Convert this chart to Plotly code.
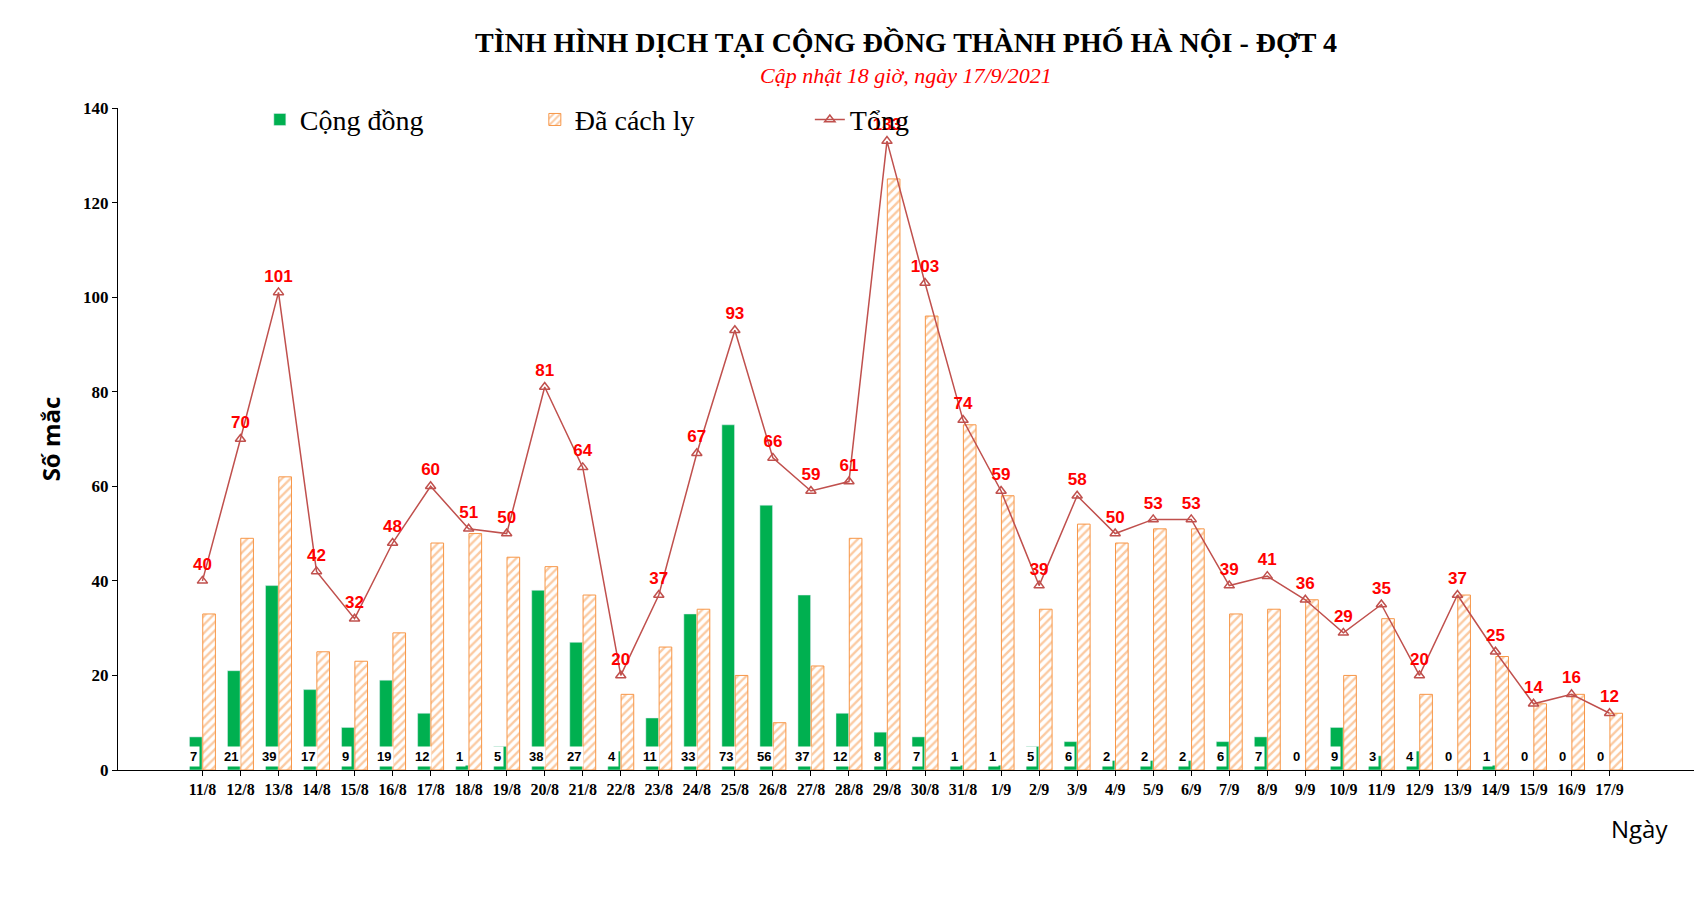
import plotly.graph_objects as go

days = ["11/8", "12/8", "13/8", "14/8", "15/8", "16/8", "17/8", "18/8", "19/8", "20/8",
        "21/8", "22/8", "23/8", "24/8", "25/8", "26/8", "27/8", "28/8", "29/8", "30/8",
        "31/8", "1/9", "2/9", "3/9", "4/9", "5/9", "6/9", "7/9", "8/9", "9/9",
        "10/9", "11/9", "12/9", "13/9", "14/9", "15/9", "16/9", "17/9"]
cong_dong = [7, 21, 39, 17, 9, 19, 12, 1, 5, 38, 27, 4, 11, 33, 73, 56, 37, 12, 8, 7,
             1, 1, 5, 6, 2, 2, 2, 6, 7, 0, 9, 3, 4, 0, 1, 0, 0, 0]
da_cach_ly = [33, 49, 62, 25, 23, 29, 48, 50, 45, 43, 37, 16, 26, 34, 20, 10, 22, 49, 125, 96,
              73, 58, 34, 52, 48, 51, 51, 33, 34, 36, 20, 32, 16, 37, 24, 14, 16, 12]
tong = [40, 70, 101, 42, 32, 48, 60, 51, 50, 81, 64, 20, 37, 67, 93, 66, 59, 61, 133, 103,
        74, 59, 39, 58, 50, 53, 53, 39, 41, 36, 29, 35, 20, 37, 25, 14, 16, 12]

ORANGE = "#F79646"
GREEN = "#00B050"
LINE = "#C0504D"

fig = go.Figure()
fig.add_trace(go.Bar(x=days, y=cong_dong, name="Cộng đồng", marker_color=GREEN))
fig.add_trace(go.Bar(
    x=days, y=da_cach_ly, name="Đã cách ly",
    marker=dict(color="white", line=dict(color=ORANGE, width=1),
                pattern=dict(shape="/", fgcolor=ORANGE, bgcolor="white", size=6, solidity=0.4)),
))
fig.add_trace(go.Scatter(
    x=days, y=tong, name="Tổng", mode="lines+markers+text",
    line=dict(color=LINE, width=1.5),
    marker=dict(symbol="triangle-up-open", size=9, color=LINE, line=dict(width=1.5)),
    text=[f"<b>{v}</b>" for v in tong], textposition="top center",
    textfont=dict(color="#FF0000", size=17, family="Liberation Sans"),
))

annotations = []
for d, v in zip(days, cong_dong):
    annotations.append(dict(
        x=d, y=0, xref="x", yref="y", text=f"<b>{v}</b>", showarrow=False,
        yanchor="bottom", yshift=3, xshift=-9, bgcolor="white", borderpad=2,
        font=dict(size=13, color="black", family="Liberation Sans"),
    ))
annotations += [
    dict(text="<b>TÌNH HÌNH DỊCH TẠI CỘNG ĐỒNG THÀNH PHỐ HÀ NỘI - ĐỢT 4</b>",
         x=0.5, y=1.0, xref="paper", yref="paper", xanchor="center", yanchor="bottom",
         yshift=48, showarrow=False,
         font=dict(size=28, family="Liberation Serif", color="black")),
    dict(text="<i>Cập nhật 18 giờ, ngày 17/9/2021</i>",
         x=0.5, y=1.0, xref="paper", yref="paper", xanchor="center", yanchor="bottom",
         yshift=18, showarrow=False,
         font=dict(size=22, family="Liberation Serif", color="#FF0000")),
    dict(text="Ngày", x=0.985, y=0, xref="paper", yref="paper", xanchor="right",
         yanchor="top", yshift=-40, showarrow=False,
         font=dict(size=24, family="Open Sans", color="black")),
]

fig.update_layout(
    width=1706, height=910,
    plot_bgcolor="white", paper_bgcolor="white",
    margin=dict(l=110, r=20, t=100, b=148),
    barmode="group", bargap=0.3, bargroupgap=0.05,
    font=dict(family="Liberation Serif", color="black"),
    legend=dict(orientation="h", x=0.09, y=1.02, yanchor="top",
                entrywidth=230, entrywidthmode="pixels",
                font=dict(size=28, family="Liberation Serif"),
                bgcolor="rgba(0,0,0,0)"),
    annotations=annotations,
    xaxis=dict(showline=True, linecolor="black", ticks="outside", tickcolor="black",
               tickfont=dict(size=16, family="Liberation Serif"), tickprefix="<b>",
               ticksuffix="</b>"),
    yaxis=dict(range=[0, 140], dtick=20, showgrid=False, showline=True, linecolor="black",
               ticks="outside", tickcolor="black", zeroline=False,
               tickfont=dict(size=17, family="Liberation Serif"), tickprefix="<b>",
               ticksuffix="</b>",
               title=dict(text="<b>Số mắc</b>", font=dict(size=24, family="Open Sans"))),
)

fig.write_html("out.html")
